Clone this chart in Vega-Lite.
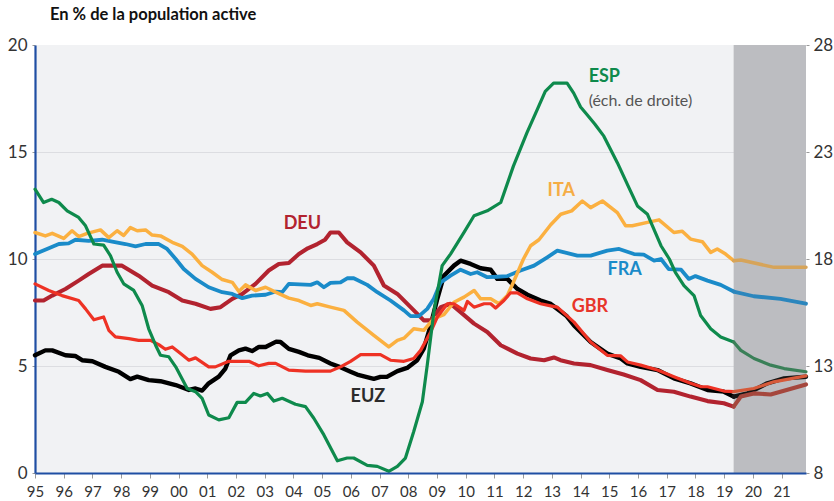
{
  "$schema": "https://vega.github.io/schema/vega-lite/v6.json",
  "width": 771,
  "height": 428,
  "autosize": "none",
  "padding": {"left": 35, "top": 45, "right": 28, "bottom": 28},
  "background": "white",
  "config": {"view": {"fill": "#f1f2f4", "stroke": null}, "font": "Lato"},
  "title": {"text": "En % de la population active", "anchor": "start", "frame": "group", "dx": 15, "offset": 13, "fontSize": 16.5, "fontWeight": "bold", "font": "Lato", "color": "#111111"},
  "datasets": {
    "band": [{"t": 2019.33, "t2": 2021.85}],
    "labels": [
      {"s": "ESP", "t": 2014.28, "v": 18.5},
      {"s": "ITA", "t": 2012.85, "v": 13.16},
      {"s": "FRA", "t": 2014.94, "v": 9.47},
      {"s": "GBR", "t": 2013.69, "v": 7.75},
      {"s": "DEU", "t": 2003.66, "v": 11.62},
      {"s": "EUZ", "t": 2005.99, "v": 3.55}
    ],
    "note": [{"txt": "(éch. de droite)", "t": 2014.28, "v": 17.36}],
    "series": [
      {"s":"EUZ","t":1995.0,"v":5.50},{"s":"EUZ","t":1995.36,"v":5.73},{"s":"EUZ","t":1995.6,"v":5.73},{"s":"EUZ","t":1996.06,"v":5.50},{"s":"EUZ","t":1996.4,"v":5.47},{"s":"EUZ","t":1996.64,"v":5.27},{"s":"EUZ","t":1997.0,"v":5.22},{"s":"EUZ","t":1997.45,"v":4.96},{"s":"EUZ","t":1997.92,"v":4.73},{"s":"EUZ","t":1998.32,"v":4.39},{"s":"EUZ","t":1998.56,"v":4.50},{"s":"EUZ","t":1998.96,"v":4.34},{"s":"EUZ","t":1999.37,"v":4.29},{"s":"EUZ","t":1999.9,"v":4.11},{"s":"EUZ","t":2000.36,"v":3.88},{"s":"EUZ","t":2000.59,"v":3.95},{"s":"EUZ","t":2000.82,"v":3.85},{"s":"EUZ","t":2001.05,"v":4.19},{"s":"EUZ","t":2001.4,"v":4.50},{"s":"EUZ","t":2001.63,"v":4.88},{"s":"EUZ","t":2001.81,"v":5.50},{"s":"EUZ","t":2002.1,"v":5.73},{"s":"EUZ","t":2002.33,"v":5.81},{"s":"EUZ","t":2002.56,"v":5.70},{"s":"EUZ","t":2002.8,"v":5.89},{"s":"EUZ","t":2003.03,"v":5.89},{"s":"EUZ","t":2003.4,"v":6.14},{"s":"EUZ","t":2003.55,"v":6.12},{"s":"EUZ","t":2003.84,"v":5.80},{"s":"EUZ","t":2004.19,"v":5.66},{"s":"EUZ","t":2004.5,"v":5.50},{"s":"EUZ","t":2004.9,"v":5.38},{"s":"EUZ","t":2005.29,"v":5.12},{"s":"EUZ","t":2005.6,"v":4.96},{"s":"EUZ","t":2005.99,"v":4.73},{"s":"EUZ","t":2006.22,"v":4.60},{"s":"EUZ","t":2006.8,"v":4.40},{"s":"EUZ","t":2007.03,"v":4.49},{"s":"EUZ","t":2007.27,"v":4.50},{"s":"EUZ","t":2007.62,"v":4.76},{"s":"EUZ","t":2007.96,"v":4.91},{"s":"EUZ","t":2008.31,"v":5.27},{"s":"EUZ","t":2008.54,"v":5.81},{"s":"EUZ","t":2008.78,"v":6.90},{"s":"EUZ","t":2009.01,"v":8.14},{"s":"EUZ","t":2009.24,"v":9.22},{"s":"EUZ","t":2009.59,"v":9.69},{"s":"EUZ","t":2009.82,"v":9.92},{"s":"EUZ","t":2010.17,"v":9.77},{"s":"EUZ","t":2010.52,"v":9.57},{"s":"EUZ","t":2010.87,"v":9.50},{"s":"EUZ","t":2011.1,"v":9.07},{"s":"EUZ","t":2011.45,"v":9.07},{"s":"EUZ","t":2011.8,"v":8.60},{"s":"EUZ","t":2012.15,"v":8.33},{"s":"EUZ","t":2012.61,"v":8.06},{"s":"EUZ","t":2012.96,"v":7.90},{"s":"EUZ","t":2013.19,"v":7.67},{"s":"EUZ","t":2013.5,"v":7.35},{"s":"EUZ","t":2013.77,"v":6.90},{"s":"EUZ","t":2014.35,"v":6.12},{"s":"EUZ","t":2014.93,"v":5.58},{"s":"EUZ","t":2015.4,"v":5.35},{"s":"EUZ","t":2015.63,"v":5.12},{"s":"EUZ","t":2016.09,"v":4.96},{"s":"EUZ","t":2016.68,"v":4.81},{"s":"EUZ","t":2017.25,"v":4.42},{"s":"EUZ","t":2017.83,"v":4.19},{"s":"EUZ","t":2018.42,"v":3.88},{"s":"EUZ","t":2018.99,"v":3.80},{"s":"EUZ","t":2019.33,"v":3.57},{"s":"EUZ","t":2019.81,"v":3.72},{"s":"EUZ","t":2020.5,"v":4.19},{"s":"EUZ","t":2021.09,"v":4.42},{"s":"EUZ","t":2021.85,"v":4.50},
      {"s":"DEU","t":1995.0,"v":8.06},{"s":"DEU","t":1995.3,"v":8.06},{"s":"DEU","t":1995.6,"v":8.29},{"s":"DEU","t":1996.06,"v":8.60},{"s":"DEU","t":1996.52,"v":8.99},{"s":"DEU","t":1996.87,"v":9.30},{"s":"DEU","t":1997.34,"v":9.69},{"s":"DEU","t":1998.03,"v":9.69},{"s":"DEU","t":1998.61,"v":9.22},{"s":"DEU","t":1999.08,"v":8.76},{"s":"DEU","t":1999.66,"v":8.45},{"s":"DEU","t":2000.13,"v":8.06},{"s":"DEU","t":2000.59,"v":7.91},{"s":"DEU","t":2001.11,"v":7.67},{"s":"DEU","t":2001.46,"v":7.75},{"s":"DEU","t":2001.87,"v":8.14},{"s":"DEU","t":2002.22,"v":8.37},{"s":"DEU","t":2002.68,"v":8.84},{"s":"DEU","t":2003.14,"v":9.46},{"s":"DEU","t":2003.49,"v":9.77},{"s":"DEU","t":2003.84,"v":9.81},{"s":"DEU","t":2004.19,"v":10.23},{"s":"DEU","t":2004.5,"v":10.50},{"s":"DEU","t":2004.83,"v":10.70},{"s":"DEU","t":2005.1,"v":10.90},{"s":"DEU","t":2005.29,"v":11.24},{"s":"DEU","t":2005.58,"v":11.24},{"s":"DEU","t":2005.87,"v":10.78},{"s":"DEU","t":2006.34,"v":10.31},{"s":"DEU","t":2006.8,"v":9.69},{"s":"DEU","t":2007.15,"v":8.76},{"s":"DEU","t":2007.62,"v":8.37},{"s":"DEU","t":2008.08,"v":7.75},{"s":"DEU","t":2008.54,"v":7.13},{"s":"DEU","t":2008.78,"v":7.13},{"s":"DEU","t":2009.13,"v":7.75},{"s":"DEU","t":2009.47,"v":7.91},{"s":"DEU","t":2009.82,"v":7.52},{"s":"DEU","t":2010.29,"v":6.98},{"s":"DEU","t":2010.75,"v":6.59},{"s":"DEU","t":2011.22,"v":5.97},{"s":"DEU","t":2011.8,"v":5.58},{"s":"DEU","t":2012.26,"v":5.35},{"s":"DEU","t":2012.73,"v":5.27},{"s":"DEU","t":2013.07,"v":5.40},{"s":"DEU","t":2013.3,"v":5.27},{"s":"DEU","t":2013.77,"v":5.12},{"s":"DEU","t":2014.35,"v":5.04},{"s":"DEU","t":2014.93,"v":4.81},{"s":"DEU","t":2015.5,"v":4.60},{"s":"DEU","t":2016.09,"v":4.34},{"s":"DEU","t":2016.68,"v":3.88},{"s":"DEU","t":2017.25,"v":3.80},{"s":"DEU","t":2017.83,"v":3.57},{"s":"DEU","t":2018.42,"v":3.36},{"s":"DEU","t":2018.99,"v":3.26},{"s":"DEU","t":2019.33,"v":3.10},{"s":"DEU","t":2019.58,"v":3.57},{"s":"DEU","t":2020.03,"v":3.72},{"s":"DEU","t":2020.62,"v":3.67},{"s":"DEU","t":2021.85,"v":4.14},
      {"s":"FRA","t":1995.0,"v":10.23},{"s":"FRA","t":1995.48,"v":10.50},{"s":"FRA","t":1995.83,"v":10.70},{"s":"FRA","t":1996.17,"v":10.73},{"s":"FRA","t":1996.41,"v":10.90},{"s":"FRA","t":1996.87,"v":10.85},{"s":"FRA","t":1997.34,"v":10.90},{"s":"FRA","t":1997.69,"v":10.81},{"s":"FRA","t":1998.15,"v":10.70},{"s":"FRA","t":1998.5,"v":10.59},{"s":"FRA","t":1998.85,"v":10.70},{"s":"FRA","t":1999.31,"v":10.70},{"s":"FRA","t":1999.6,"v":10.47},{"s":"FRA","t":1999.9,"v":10.00},{"s":"FRA","t":2000.18,"v":9.53},{"s":"FRA","t":2000.59,"v":9.07},{"s":"FRA","t":2001.05,"v":8.68},{"s":"FRA","t":2001.52,"v":8.45},{"s":"FRA","t":2001.87,"v":8.37},{"s":"FRA","t":2002.22,"v":8.17},{"s":"FRA","t":2002.56,"v":8.29},{"s":"FRA","t":2003.03,"v":8.33},{"s":"FRA","t":2003.38,"v":8.48},{"s":"FRA","t":2003.61,"v":8.45},{"s":"FRA","t":2003.84,"v":8.84},{"s":"FRA","t":2004.6,"v":8.79},{"s":"FRA","t":2004.83,"v":8.91},{"s":"FRA","t":2005.06,"v":8.68},{"s":"FRA","t":2005.29,"v":8.88},{"s":"FRA","t":2005.64,"v":8.91},{"s":"FRA","t":2005.87,"v":9.10},{"s":"FRA","t":2006.1,"v":9.10},{"s":"FRA","t":2006.57,"v":8.79},{"s":"FRA","t":2006.92,"v":8.45},{"s":"FRA","t":2007.38,"v":8.06},{"s":"FRA","t":2007.85,"v":7.60},{"s":"FRA","t":2008.08,"v":7.33},{"s":"FRA","t":2008.37,"v":7.33},{"s":"FRA","t":2008.66,"v":7.67},{"s":"FRA","t":2008.89,"v":8.14},{"s":"FRA","t":2009.13,"v":8.91},{"s":"FRA","t":2009.47,"v":9.22},{"s":"FRA","t":2009.82,"v":9.50},{"s":"FRA","t":2010.17,"v":9.30},{"s":"FRA","t":2010.4,"v":9.38},{"s":"FRA","t":2010.75,"v":9.15},{"s":"FRA","t":2011.1,"v":9.17},{"s":"FRA","t":2011.45,"v":9.20},{"s":"FRA","t":2011.91,"v":9.46},{"s":"FRA","t":2012.38,"v":9.69},{"s":"FRA","t":2012.84,"v":10.08},{"s":"FRA","t":2013.19,"v":10.39},{"s":"FRA","t":2013.89,"v":10.16},{"s":"FRA","t":2014.35,"v":10.16},{"s":"FRA","t":2014.93,"v":10.39},{"s":"FRA","t":2015.34,"v":10.47},{"s":"FRA","t":2015.86,"v":10.23},{"s":"FRA","t":2016.2,"v":10.20},{"s":"FRA","t":2016.56,"v":9.92},{"s":"FRA","t":2016.8,"v":10.00},{"s":"FRA","t":2017.07,"v":9.53},{"s":"FRA","t":2017.5,"v":9.50},{"s":"FRA","t":2017.77,"v":9.07},{"s":"FRA","t":2018.0,"v":9.20},{"s":"FRA","t":2018.42,"v":8.99},{"s":"FRA","t":2018.88,"v":8.79},{"s":"FRA","t":2019.33,"v":8.48},{"s":"FRA","t":2020.03,"v":8.26},{"s":"FRA","t":2020.96,"v":8.14},{"s":"FRA","t":2021.85,"v":7.91},
      {"s":"ITA","t":1995.0,"v":11.24},{"s":"ITA","t":1995.36,"v":11.08},{"s":"ITA","t":1995.6,"v":11.20},{"s":"ITA","t":1996.0,"v":10.96},{"s":"ITA","t":1996.29,"v":11.32},{"s":"ITA","t":1996.52,"v":11.05},{"s":"ITA","t":1996.82,"v":11.20},{"s":"ITA","t":1997.28,"v":11.36},{"s":"ITA","t":1997.57,"v":11.00},{"s":"ITA","t":1997.86,"v":11.32},{"s":"ITA","t":1998.09,"v":11.10},{"s":"ITA","t":1998.32,"v":11.47},{"s":"ITA","t":1998.56,"v":11.32},{"s":"ITA","t":1998.85,"v":11.36},{"s":"ITA","t":1999.08,"v":11.12},{"s":"ITA","t":1999.37,"v":11.08},{"s":"ITA","t":1999.78,"v":10.78},{"s":"ITA","t":2000.13,"v":10.59},{"s":"ITA","t":2000.47,"v":10.23},{"s":"ITA","t":2000.82,"v":9.69},{"s":"ITA","t":2001.17,"v":9.38},{"s":"ITA","t":2001.52,"v":9.04},{"s":"ITA","t":2001.87,"v":8.91},{"s":"ITA","t":2002.1,"v":8.48},{"s":"ITA","t":2002.33,"v":8.79},{"s":"ITA","t":2002.68,"v":8.53},{"s":"ITA","t":2003.03,"v":8.68},{"s":"ITA","t":2003.38,"v":8.45},{"s":"ITA","t":2003.84,"v":8.17},{"s":"ITA","t":2004.19,"v":8.06},{"s":"ITA","t":2004.6,"v":7.83},{"s":"ITA","t":2004.83,"v":7.91},{"s":"ITA","t":2005.29,"v":7.75},{"s":"ITA","t":2005.76,"v":7.60},{"s":"ITA","t":2006.22,"v":7.05},{"s":"ITA","t":2006.8,"v":6.43},{"s":"ITA","t":2007.32,"v":5.89},{"s":"ITA","t":2007.62,"v":6.20},{"s":"ITA","t":2007.85,"v":6.30},{"s":"ITA","t":2008.19,"v":6.74},{"s":"ITA","t":2008.54,"v":6.67},{"s":"ITA","t":2008.89,"v":7.21},{"s":"ITA","t":2009.24,"v":7.40},{"s":"ITA","t":2009.59,"v":7.98},{"s":"ITA","t":2009.94,"v":8.22},{"s":"ITA","t":2010.29,"v":8.53},{"s":"ITA","t":2010.52,"v":8.14},{"s":"ITA","t":2010.87,"v":8.14},{"s":"ITA","t":2011.16,"v":7.91},{"s":"ITA","t":2011.45,"v":8.29},{"s":"ITA","t":2011.66,"v":8.91},{"s":"ITA","t":2012.01,"v":10.00},{"s":"ITA","t":2012.26,"v":10.62},{"s":"ITA","t":2012.55,"v":10.90},{"s":"ITA","t":2012.96,"v":11.60},{"s":"ITA","t":2013.31,"v":12.09},{"s":"ITA","t":2013.69,"v":12.25},{"s":"ITA","t":2014.06,"v":12.71},{"s":"ITA","t":2014.35,"v":12.40},{"s":"ITA","t":2014.76,"v":12.71},{"s":"ITA","t":2015.28,"v":12.17},{"s":"ITA","t":2015.57,"v":11.55},{"s":"ITA","t":2015.8,"v":11.55},{"s":"ITA","t":2016.33,"v":11.71},{"s":"ITA","t":2016.73,"v":11.83},{"s":"ITA","t":2017.25,"v":11.24},{"s":"ITA","t":2017.54,"v":11.30},{"s":"ITA","t":2017.83,"v":10.93},{"s":"ITA","t":2018.24,"v":10.81},{"s":"ITA","t":2018.53,"v":10.31},{"s":"ITA","t":2018.76,"v":10.47},{"s":"ITA","t":2019.05,"v":10.23},{"s":"ITA","t":2019.33,"v":9.92},{"s":"ITA","t":2019.58,"v":9.95},{"s":"ITA","t":2020.74,"v":9.61},{"s":"ITA","t":2021.85,"v":9.61},
      {"s":"GBR","t":1995.0,"v":8.84},{"s":"GBR","t":1995.48,"v":8.53},{"s":"GBR","t":1995.94,"v":8.29},{"s":"GBR","t":1996.52,"v":8.06},{"s":"GBR","t":1996.76,"v":7.67},{"s":"GBR","t":1997.05,"v":7.16},{"s":"GBR","t":1997.39,"v":7.29},{"s":"GBR","t":1997.57,"v":6.67},{"s":"GBR","t":1997.8,"v":6.36},{"s":"GBR","t":1998.27,"v":6.28},{"s":"GBR","t":1998.61,"v":6.20},{"s":"GBR","t":1999.02,"v":6.20},{"s":"GBR","t":1999.31,"v":6.00},{"s":"GBR","t":1999.54,"v":5.78},{"s":"GBR","t":1999.78,"v":5.89},{"s":"GBR","t":2000.07,"v":5.58},{"s":"GBR","t":2000.36,"v":5.27},{"s":"GBR","t":2000.59,"v":5.38},{"s":"GBR","t":2001.05,"v":4.96},{"s":"GBR","t":2001.28,"v":4.96},{"s":"GBR","t":2001.75,"v":5.22},{"s":"GBR","t":2002.45,"v":5.22},{"s":"GBR","t":2002.79,"v":5.01},{"s":"GBR","t":2003.14,"v":5.12},{"s":"GBR","t":2003.38,"v":5.12},{"s":"GBR","t":2003.84,"v":4.81},{"s":"GBR","t":2004.42,"v":4.76},{"s":"GBR","t":2005.29,"v":4.76},{"s":"GBR","t":2005.64,"v":4.96},{"s":"GBR","t":2005.99,"v":5.22},{"s":"GBR","t":2006.34,"v":5.53},{"s":"GBR","t":2007.03,"v":5.53},{"s":"GBR","t":2007.38,"v":5.27},{"s":"GBR","t":2007.85,"v":5.22},{"s":"GBR","t":2008.19,"v":5.35},{"s":"GBR","t":2008.43,"v":5.73},{"s":"GBR","t":2008.78,"v":6.59},{"s":"GBR","t":2009.01,"v":7.29},{"s":"GBR","t":2009.36,"v":7.91},{"s":"GBR","t":2009.59,"v":7.91},{"s":"GBR","t":2009.94,"v":7.60},{"s":"GBR","t":2010.06,"v":8.02},{"s":"GBR","t":2010.29,"v":7.75},{"s":"GBR","t":2010.64,"v":7.91},{"s":"GBR","t":2010.87,"v":7.91},{"s":"GBR","t":2011.04,"v":7.71},{"s":"GBR","t":2011.33,"v":8.06},{"s":"GBR","t":2011.56,"v":8.42},{"s":"GBR","t":2011.8,"v":8.42},{"s":"GBR","t":2012.15,"v":8.14},{"s":"GBR","t":2012.61,"v":7.91},{"s":"GBR","t":2013.0,"v":7.80},{"s":"GBR","t":2013.19,"v":7.75},{"s":"GBR","t":2013.77,"v":7.05},{"s":"GBR","t":2014.35,"v":6.12},{"s":"GBR","t":2014.93,"v":5.50},{"s":"GBR","t":2015.4,"v":5.47},{"s":"GBR","t":2015.63,"v":5.19},{"s":"GBR","t":2016.09,"v":5.04},{"s":"GBR","t":2016.68,"v":4.81},{"s":"GBR","t":2017.25,"v":4.50},{"s":"GBR","t":2017.83,"v":4.19},{"s":"GBR","t":2018.2,"v":4.03},{"s":"GBR","t":2018.42,"v":4.03},{"s":"GBR","t":2018.99,"v":3.83},{"s":"GBR","t":2019.33,"v":3.80},{"s":"GBR","t":2020.03,"v":3.95},{"s":"GBR","t":2020.73,"v":4.26},{"s":"GBR","t":2021.85,"v":4.54},
      {"s":"ESP","t":1995.0,"v":21.26},{"s":"ESP","t":1995.3,"v":20.64},{"s":"ESP","t":1995.58,"v":20.79},{"s":"ESP","t":1995.83,"v":20.64},{"s":"ESP","t":1996.12,"v":20.25},{"s":"ESP","t":1996.52,"v":19.94},{"s":"ESP","t":1996.76,"v":19.55},{"s":"ESP","t":1997.05,"v":18.70},{"s":"ESP","t":1997.39,"v":18.65},{"s":"ESP","t":1997.63,"v":18.15},{"s":"ESP","t":1997.86,"v":17.38},{"s":"ESP","t":1998.09,"v":16.84},{"s":"ESP","t":1998.44,"v":16.53},{"s":"ESP","t":1998.73,"v":15.83},{"s":"ESP","t":1998.96,"v":14.74},{"s":"ESP","t":1999.2,"v":13.97},{"s":"ESP","t":1999.37,"v":13.50},{"s":"ESP","t":1999.66,"v":13.43},{"s":"ESP","t":1999.9,"v":12.96},{"s":"ESP","t":2000.3,"v":11.95},{"s":"ESP","t":2000.59,"v":11.80},{"s":"ESP","t":2000.82,"v":11.49},{"s":"ESP","t":2001.05,"v":10.71},{"s":"ESP","t":2001.4,"v":10.48},{"s":"ESP","t":2001.75,"v":10.58},{"s":"ESP","t":2002.04,"v":11.30},{"s":"ESP","t":2002.33,"v":11.30},{"s":"ESP","t":2002.62,"v":11.72},{"s":"ESP","t":2002.85,"v":11.60},{"s":"ESP","t":2003.09,"v":11.72},{"s":"ESP","t":2003.32,"v":11.36},{"s":"ESP","t":2003.61,"v":11.49},{"s":"ESP","t":2004.07,"v":11.21},{"s":"ESP","t":2004.42,"v":11.10},{"s":"ESP","t":2004.71,"v":10.56},{"s":"ESP","t":2005.06,"v":9.78},{"s":"ESP","t":2005.53,"v":8.57},{"s":"ESP","t":2005.87,"v":8.70},{"s":"ESP","t":2006.1,"v":8.70},{"s":"ESP","t":2006.57,"v":8.36},{"s":"ESP","t":2006.92,"v":8.31},{"s":"ESP","t":2007.32,"v":8.08},{"s":"ESP","t":2007.62,"v":8.31},{"s":"ESP","t":2007.9,"v":8.70},{"s":"ESP","t":2008.19,"v":9.94},{"s":"ESP","t":2008.49,"v":11.33},{"s":"ESP","t":2008.66,"v":13.04},{"s":"ESP","t":2008.89,"v":15.52},{"s":"ESP","t":2009.18,"v":17.69},{"s":"ESP","t":2009.47,"v":18.23},{"s":"ESP","t":2009.94,"v":19.24},{"s":"ESP","t":2010.29,"v":20.02},{"s":"ESP","t":2010.75,"v":20.25},{"s":"ESP","t":2011.22,"v":20.64},{"s":"ESP","t":2011.66,"v":22.34},{"s":"ESP","t":2012.13,"v":23.89},{"s":"ESP","t":2012.49,"v":24.98},{"s":"ESP","t":2012.77,"v":25.83},{"s":"ESP","t":2013.06,"v":26.22},{"s":"ESP","t":2013.53,"v":26.22},{"s":"ESP","t":2013.76,"v":25.75},{"s":"ESP","t":2014.0,"v":25.10},{"s":"ESP","t":2014.22,"v":24.75},{"s":"ESP","t":2014.5,"v":24.30},{"s":"ESP","t":2014.81,"v":23.74},{"s":"ESP","t":2015.28,"v":22.50},{"s":"ESP","t":2015.63,"v":21.49},{"s":"ESP","t":2015.98,"v":20.48},{"s":"ESP","t":2016.33,"v":20.09},{"s":"ESP","t":2016.8,"v":18.62},{"s":"ESP","t":2017.09,"v":18.00},{"s":"ESP","t":2017.3,"v":17.38},{"s":"ESP","t":2017.6,"v":16.76},{"s":"ESP","t":2017.95,"v":16.29},{"s":"ESP","t":2018.18,"v":15.36},{"s":"ESP","t":2018.53,"v":14.74},{"s":"ESP","t":2018.88,"v":14.36},{"s":"ESP","t":2019.33,"v":14.12},{"s":"ESP","t":2019.58,"v":13.73},{"s":"ESP","t":2020.04,"v":13.35},{"s":"ESP","t":2020.62,"v":13.04},{"s":"ESP","t":2021.09,"v":12.88},{"s":"ESP","t":2021.85,"v":12.73}
    ]
  },
  "encoding": {
    "x": {
      "field": "t", "type": "quantitative",
      "scale": {"domain": [1995, 2021.85], "nice": false, "zero": false},
      "axis": {
        "title": null, "values": [1995,1996,1997,1998,1999,2000,2001,2002,2003,2004,2005,2006,2007,2008,2009,2010,2011,2012,2013,2014,2015,2016,2017,2018,2019,2020,2021],
        "labelExpr": "format(datum.value % 100, '02d')",
        "grid": false, "domainColor": "#1f4ea3", "domainWidth": 2.2,
        "tickColor": "#9a9a9a", "tickSize": 5, "labelFont": "Lato", "labelFontSize": 15,
        "labelColor": "#333333", "labelPadding": 6, "labelDx": 3, "labelFlush": false, "labelOverlap": false, "zindex": 1
      }
    }
  },
  "layer": [
    {
      "data": {"name": "band"},
      "mark": {"type": "rect", "color": "#bcbdc1"},
      "encoding": {"x2": {"field": "t2"}}
    },
    {
      "data": {"name": "series"},
      "transform": [{"filter": "datum.s != 'ESP' && datum.t <= 2019.33"}],
      "mark": {"type": "line", "strokeJoin": "round", "strokeCap": "round"},
      "encoding": {
        "y": {"field": "v", "type": "quantitative", "scale": {"domain": [0, 20], "nice": false},
          "axis": {"orient": "left", "title": null, "values": [0, 5, 10, 15, 20], "grid": true,
            "gridColor": {"condition": {"test": "datum.value >= 20", "value": "transparent"}, "value": "#dcdde1"},
            "gridWidth": 1.2, "domainColor": "#1f4ea3", "domainWidth": 2.2, "tickColor": "#9a9a9a", "tickSize": 3,
            "labelFont": "Lato", "labelFontSize": 17, "labelColor": "#333333", "labelPadding": 5}},
        "color": {"field": "s", "type": "nominal", "legend": null,
          "scale": {"domain": ["EUZ", "DEU", "FRA", "ITA", "GBR"], "range": ["#000000", "#b2232f", "#1a8bc9", "#fbb040", "#ee3224"]}},
        "strokeWidth": {"field": "s", "type": "nominal", "legend": null,
          "scale": {"domain": ["EUZ", "DEU", "FRA", "ITA", "GBR"], "range": [4.4, 3.2, 3.2, 3.2, 3.2]}}
      }
    },
    {
      "data": {"name": "series"},
      "transform": [{"filter": "datum.s != 'ESP' && datum.t >= 2019.33"}],
      "mark": {"type": "line", "strokeJoin": "round", "strokeCap": "round"},
      "encoding": {
        "y": {"field": "v", "type": "quantitative", "scale": {"domain": [0, 20], "nice": false}, "axis": null},
        "color": {"field": "s", "type": "nominal", "legend": null,
          "scale": {"domain": ["EUZ", "DEU", "FRA", "ITA", "GBR"], "range": ["#151515", "#a5473d", "#2b86bd", "#d6a45a", "#d65a3a"]}},
        "strokeWidth": {"field": "s", "type": "nominal", "legend": null,
          "scale": {"domain": ["EUZ", "DEU", "FRA", "ITA", "GBR"], "range": [4.4, 3.2, 3.2, 3.2, 3.2]}}
      }
    },
    {
      "data": {"name": "series"},
      "transform": [{"filter": "datum.s == 'ESP' && datum.t <= 2019.33"}],
      "mark": {"type": "line", "strokeJoin": "round", "strokeCap": "round", "color": "#0e8a4c", "strokeWidth": 3.2},
      "encoding": {
        "y": {"field": "v", "type": "quantitative", "scale": {"domain": [8, 28], "nice": false, "zero": false},
          "axis": {"orient": "right", "title": null, "values": [8, 13, 18, 23, 28], "grid": false, "domain": false,
            "tickColor": "#9a9a9a", "tickSize": 3, "labelFont": "Lato", "labelFontSize": 17, "labelColor": "#333333", "labelPadding": 4}}
      }
    },
    {
      "data": {"name": "series"},
      "transform": [{"filter": "datum.s == 'ESP' && datum.t >= 2019.33"}],
      "mark": {"type": "line", "strokeJoin": "round", "strokeCap": "round", "color": "#3a8058", "strokeWidth": 3.2},
      "encoding": {
        "y": {"field": "v", "type": "quantitative", "scale": {"domain": [8, 28], "nice": false, "zero": false}, "axis": null}
      }
    },
    {
      "data": {"name": "labels"},
      "mark": {"type": "text", "align": "left", "baseline": "middle", "font": "Lato", "fontSize": 18, "fontWeight": "bold"},
      "encoding": {
        "y": {"field": "v", "type": "quantitative", "scale": {"domain": [0, 20], "nice": false}, "axis": null},
        "text": {"field": "s"},
        "color": {"field": "s", "type": "nominal", "legend": null,
          "scale": {"domain": ["EUZ", "DEU", "FRA", "ITA", "GBR", "ESP"], "range": ["#2b2b2b", "#b2232f", "#1a8bc9", "#f5ad45", "#e8352a", "#0e8a4c"]}}
      }
    },
    {
      "data": {"name": "note"},
      "mark": {"type": "text", "align": "left", "baseline": "middle", "font": "Lato", "fontSize": 16, "color": "#555555"},
      "encoding": {
        "y": {"field": "v", "type": "quantitative", "scale": {"domain": [0, 20], "nice": false}, "axis": null},
        "text": {"field": "txt"}
      }
    }
  ],
  "resolve": {"scale": {"y": "independent", "color": "independent", "strokeWidth": "independent"}}
}
